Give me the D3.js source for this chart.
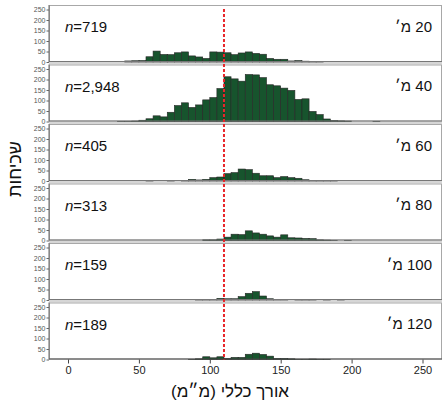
<!DOCTYPE html>
<html>
<head>
<meta charset="utf-8">
<script src="https://cdn.jsdelivr.net/npm/d3@7"></script>
<style>
  html, body { margin: 0; padding: 0; background: #fff; }
  svg { display: block; font-family: "Liberation Sans", Arial, sans-serif; }
</style>
</head>
<body>
<svg id="chart" width="445" height="411"></svg>
<script>
// Length bins (lower edge, mm); every bin is 5 mm wide
const binStarts = [35, 40, 45, 50, 55, 60, 65, 70, 75, 80, 85, 90, 95, 100, 105, 110, 115, 120, 125,
                   130, 135, 140, 145, 150, 155, 160, 165, 170, 175, 180, 185, 190, 195, 200, 205, 210, 215];
const binWidth = 5;

// Frequencies per depth
const depth20  = [0, 5, 6, 7, 25, 52, 36, 35, 44, 48, 29, 24, 17, 48, 47, 44, 35, 43, 48,
                  41, 37, 17, 13, 13, 5, 7, 4, 2, 1, 0, 0, 0, 0, 0, 0, 0, 0];
const depth40  = [1, 1, 2, 6, 13, 27, 22, 44, 76, 89, 67, 79, 103, 114, 157, 213, 203, 192, 224,
                  222, 209, 175, 170, 159, 148, 105, 108, 48, 33, 12, 5, 3, 2, 0, 0, 0, 1];
const depth60  = [0, 0, 0, 0, 1, 0, 0, 1, 0, 1, 8, 5, 8, 16, 19, 35, 40, 57, 54,
                  37, 25, 25, 16, 21, 16, 13, 6, 3, 2, 1, 1, 0, 0, 0, 0, 0, 0];
const depth80  = [0, 0, 0, 0, 0, 0, 0, 0, 0, 0, 0, 0, 3, 3, 7, 16, 30, 28, 46,
                  36, 30, 22, 16, 27, 13, 12, 10, 9, 3, 2, 1, 0, 1, 0, 0, 0, 0];
const depth100 = [0, 0, 0, 0, 0, 0, 0, 0, 0, 0, 0, 1, 3, 3, 8, 6, 6, 16, 32,
                  40, 19, 6, 3, 2, 0, 1, 2, 1, 0, 1, 0, 1, 0, 0, 0, 0, 0];
const depth120 = [0, 0, 0, 0, 0, 0, 0, 0, 0, 0, 1, 3, 13, 8, 13, 5, 10, 10, 25,
                  30, 24, 16, 5, 5, 3, 1, 1, 2, 1, 1, 0, 0, 0, 0, 0, 0, 0];

const depthLabels = ["20 מ׳", "40 מ׳", "60 מ׳", "80 מ׳", "100 מ׳", "120 מ׳"];
const sampleSizes = ["719", "2,948", "405", "313", "159", "189"];
const series = [depth20, depth40, depth60, depth80, depth100, depth120];

const xTicks = [0, 50, 100, 150, 200, 250];
const yTicks = [0, 50, 100, 150, 200, 250];
const cutoff = 110;

const xTitle = "אורך כללי (מ״מ)";
const yTitle = "שכיחות";

// Layout
const plotLeft = 49, plotRight = 442;
const firstTop = 5, panelStep = 59.5, panelH = 57;

const svg = d3.select("#chart");
const x = d3.scaleLinear().domain([0, 250]).range([68, 422.5]);

series.forEach((vals, i) => {
  const top = firstTop + i * panelStep;
  const bottom = top + panelH;
  const y = d3.scaleLinear().domain([0, 250]).range([bottom, bottom - 52.5]);
  const g = svg.append("g");

  // gap strip under the panel
  if (i < series.length - 1) {
    g.append("rect")
      .attr("x", plotLeft).attr("y", bottom)
      .attr("width", plotRight - plotLeft).attr("height", panelStep - panelH)
      .attr("fill", "#d6d6d6");
  }

  // panel frame
  g.append("rect")
    .attr("x", plotLeft + 0.5).attr("y", top + 0.5)
    .attr("width", plotRight - plotLeft - 1).attr("height", panelH - 1)
    .attr("fill", "#fff").attr("stroke", "#a8a8a8").attr("stroke-width", 1);

  // bars
  const bins = binStarts.map((b, k) => ({ x0: b, x1: b + binWidth, v: vals[k] })).filter(d => d.v > 0);
  g.selectAll("rect.bar").data(bins).enter().append("rect")
    .attr("class", "bar")
    .attr("x", d => x(d.x0))
    .attr("width", d => x(d.x1) - x(d.x0))
    .attr("y", d => y(d.v))
    .attr("height", d => y(0) - y(d.v))
    .attr("fill", "#17542d")
    .attr("stroke", "#262626")
    .attr("stroke-width", 0.6);

  // baseline
  g.append("line")
    .attr("x1", plotLeft).attr("x2", plotRight)
    .attr("y1", bottom - 0.5).attr("y2", bottom - 0.5)
    .attr("stroke", i === series.length - 1 ? "#444" : "#777").attr("stroke-width", 1);

  // y axis
  const yAxis = g.append("g")
    .attr("transform", `translate(${plotLeft},0)`)
    .call(d3.axisLeft(y).tickValues(yTicks).tickSize(2.5).tickPadding(1));
  yAxis.select(".domain").attr("stroke", "#666").attr("d", `M0,${top}V${bottom}`);
  yAxis.selectAll(".tick line").attr("stroke", "#666");
  yAxis.selectAll("text").attr("font-size", 7).attr("fill", "#555")
    .attr("font-family", "Liberation Sans, Arial, sans-serif");

  // sample size
  const nLabel = g.append("text")
    .attr("x", 65).attr("y", top + 27)
    .attr("font-size", 15).attr("fill", "#111");
  nLabel.append("tspan").attr("font-style", "italic").text("n");
  nLabel.append("tspan").text("=" + sampleSizes[i]);

  // depth label
  g.append("text")
    .attr("x", 432).attr("y", top + 26.5)
    .attr("direction", "rtl")
    .attr("text-anchor", "start")
    .attr("font-size", 15).attr("fill", "#111")
    .text(depthLabels[i]);
});

// bottom x axis
const lastBottom = firstTop + (series.length - 1) * panelStep + panelH;
const xAxis = svg.append("g")
  .attr("transform", `translate(0,${lastBottom})`)
  .call(d3.axisBottom(x).tickValues(xTicks).tickSize(4).tickPadding(3));
xAxis.select(".domain").remove();
xAxis.selectAll(".tick line").attr("stroke", "#444");
xAxis.selectAll("text").attr("font-size", 11).attr("fill", "#222")
  .attr("font-family", "Liberation Sans, Arial, sans-serif");

// reference length line
svg.append("line")
  .attr("x1", x(cutoff)).attr("x2", x(cutoff))
  .attr("y1", 9).attr("y2", lastBottom)
  .attr("stroke", "#e8262b").attr("stroke-width", 2)
  .attr("stroke-dasharray", "3,2");

// axis titles
svg.append("text")
  .attr("x", 230).attr("y", 397)
  .attr("direction", "rtl")
  .attr("text-anchor", "middle")
  .attr("font-size", 17).attr("fill", "#111")
  .text(xTitle);

svg.append("text")
  .attr("transform", "translate(21,169) rotate(-90)")
  .attr("direction", "rtl")
  .attr("text-anchor", "middle")
  .attr("font-size", 18).attr("fill", "#111")
  .text(yTitle);
</script>
</body>
</html>
